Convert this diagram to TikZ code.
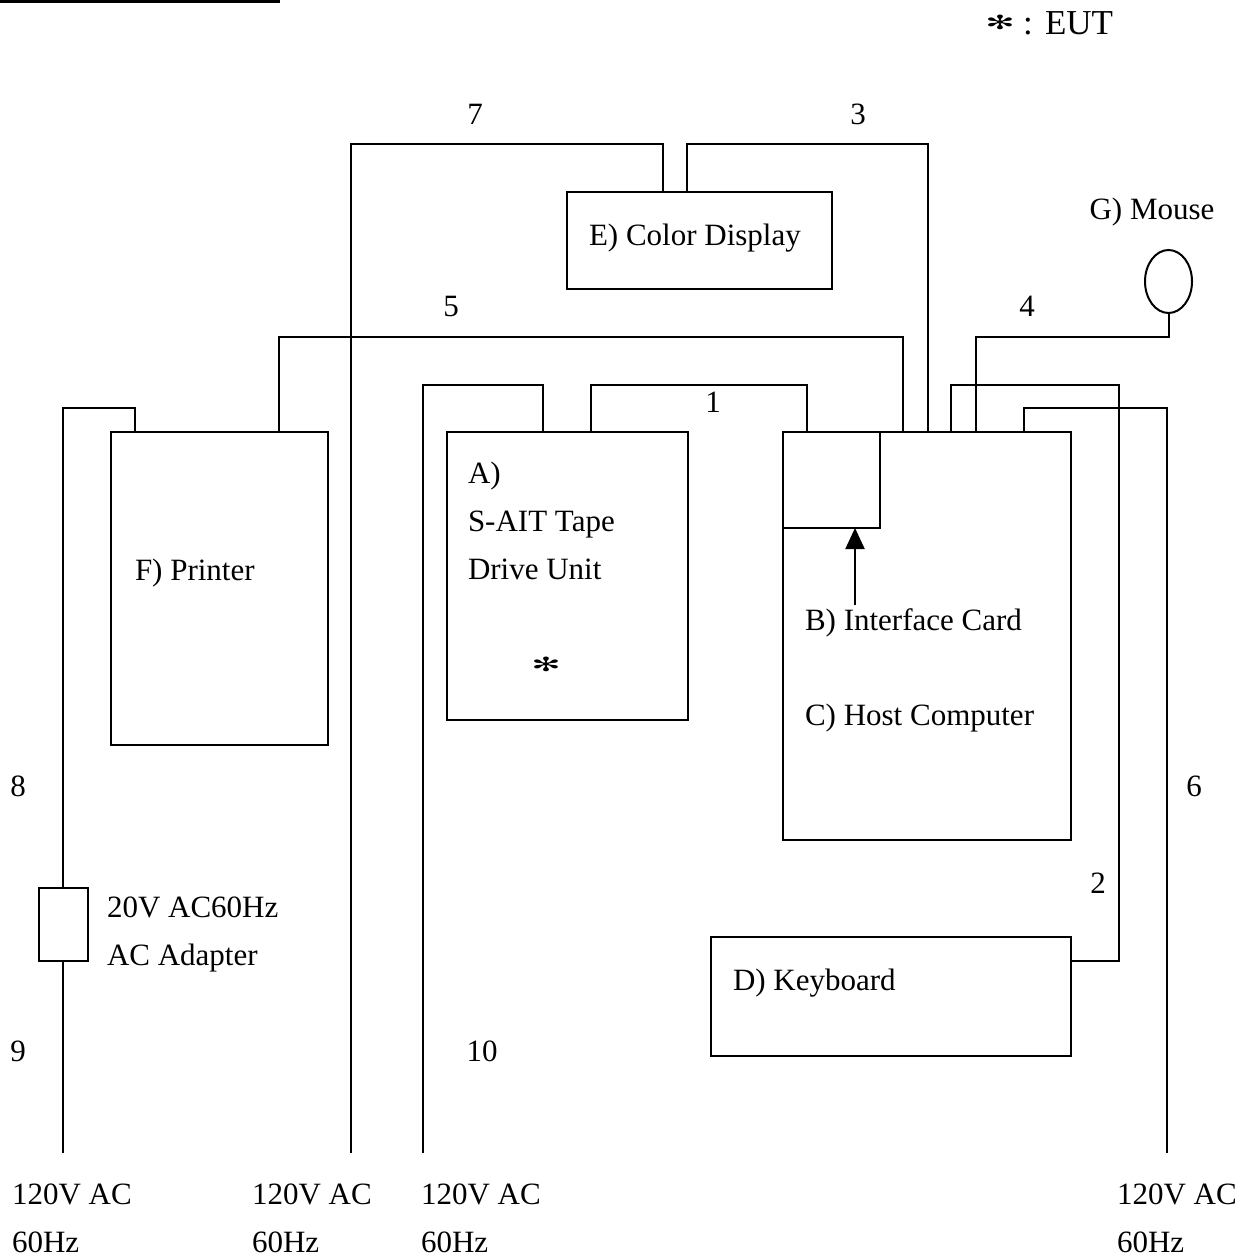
\documentclass[tikz,border=0pt]{standalone}
\usepackage{fontspec}
\setmainfont{Liberation Serif}
\newfontfamily\symfont{DejaVu Sans}
\usetikzlibrary{shapes.geometric,arrows.meta}
\begin{document}
\begin{tikzpicture}[x=0.5pt,y=-0.5pt,
  box/.style={draw,line width=1pt,inner sep=0pt,outer sep=0pt},
  cable/.style={draw,line width=1pt},
  lbl/.style={inner sep=0pt,outer sep=0pt,font=\fontsize{15.5}{18}\selectfont},
  lw/.style={lbl,anchor=base west},
  lc/.style={lbl,anchor=base},
  eutstar/.style={inner sep=0pt,xscale=1.35,yscale=0.75,font=\symfont\fontsize{13}{14}\selectfont}]
\useasboundingbox (0,0) rectangle (1242,1256);
\draw[line width=1.5pt] (0,1.5) -- (280,1.5);
% boxes
\node[box,minimum width=132.5pt,minimum height=48.5pt] (E) at (699.5,240.5) {};
\node[box,minimum width=108.5pt,minimum height=156.5pt] (F) at (219.5,588.5) {};
\node[box,minimum width=120.5pt,minimum height=144pt] (A) at (567.5,576) {};
\node[box,minimum width=144pt,minimum height=204pt] (C) at (927,636) {};
\node[box,minimum width=48.5pt,minimum height=48pt] (B) at (831.5,480) {};
\node[box,minimum width=180pt,minimum height=59.5pt] (D) at (891,996.5) {};
\node[box,ellipse,minimum width=23.5pt,minimum height=31.5pt] (G) at (1168.5,281.5) {};
\node[box,minimum width=24.5pt,minimum height=36.5pt] (H) at (63,924.5) {};
% plug ends
\coordinate (p9) at (63,1153);
\coordinate (p7) at (351,1153);
\coordinate (p10) at (423,1153);
\coordinate (p6) at (1167,1153);
\coordinate (arr) at (855,605);
% cables
\draw[cable] ([xshift=48pt]E.north west) |- (351,144) -- (p7);
\draw[cable] ([xshift=60pt]E.north west) |- (928,144) -- ([xshift=72.5pt]C.north west);
\draw[cable] ([xshift=84pt]F.north west) |- (903,337) -- ([xshift=60pt]C.north west);
\draw[cable] (G.south) |- (976,337) -- ([xshift=96.5pt]C.north west);
\draw[cable] ([xshift=84pt]C.north west) |- (1119,385) |- ([yshift=-12pt]D.north east);
\draw[cable] ([xshift=120.5pt]C.north west) |- (1167,408) -- (p6);
\draw[cable] ([xshift=72pt]A.north west) |- (807,385) -- ([xshift=12pt]B.north west);
\draw[cable] ([xshift=48pt]A.north west) |- (423,385) -- (p10);
\draw[cable] ([xshift=12pt]F.north west) |- (63,408) -- (H.north);
\draw[cable] (H.south) -- (p9);
\draw[line width=1pt,-{Triangle[length=10.5pt,width=9.5pt]}] (arr) -- ([xshift=36pt]B.south west);
% labels
\node[eutstar] (s0) at (1000,22) {✻};
\node[lc,font=\fontsize{17.5}{20}\selectfont] (colon) at (1028,35) {:};
\node[lw,font=\fontsize{17.5}{20}\selectfont] (eut) at (1045,35) {EUT};
\node[lw] (tE) at (589,246) {E) Color Display};
\node[lc] (n7) at (475,125) {7};
\node[lc] (n3) at (858,125) {3};
\node[lc] (tG) at (1152,220) {G) Mouse};
\node[lc] (n5) at (451,317) {5};
\node[lc] (n4) at (1027,317) {4};
\node[lc] (n1) at (713,413) {1};
\node[lw] (tA1) at (468,483) {A)};
\node[lw] (tA2) at (468,531) {S-AIT Tape};
\node[lw] (tA3) at (468,579) {Drive Unit};
\node[eutstar] (s1) at (546,664) {✻};
\node[lw] (tF) at (135,580) {F) Printer};
\node[lw] (tB) at (805,630) {B) Interface Card};
\node[lw] (tC) at (805,725) {C) Host Computer};
\node[lc] (n8) at (18,796) {8};
\node[lc] (n6) at (1194,796) {6};
\node[lc] (n2) at (1098,893) {2};
\node[lw] (tH1) at (107,917) {20V AC60Hz};
\node[lw] (tH2) at (107,965) {AC Adapter};
\node[lw] (tD) at (733,990) {D) Keyboard};
\node[lc] (n9) at (18,1061) {9};
\node[lc] (n10) at (482,1061) {10};
\foreach \x/\n in {12/a,252/b,421/c,1117/d}{
  \node[lw] (v\n) at (\x,1204) {120V AC};
  \node[lw] (h\n) at (\x,1252) {60Hz};
}
\end{tikzpicture}
\end{document}
